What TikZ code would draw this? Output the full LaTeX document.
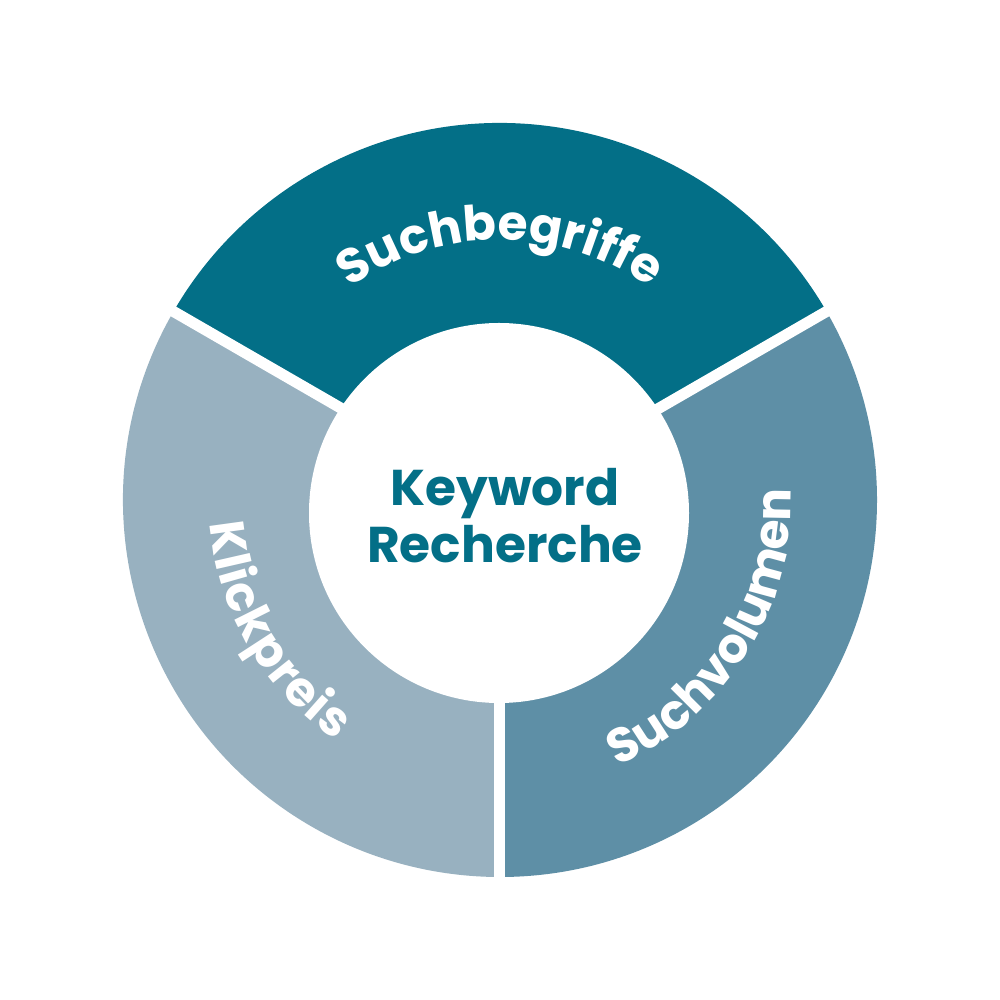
\documentclass[tikz,border=0pt]{standalone}
\usepackage{fontspec}
\setmainfont{Poppins}
\usetikzlibrary{decorations.text}

\definecolor{begriffteal}{RGB}{3,111,135}
\definecolor{volumenblue}{RGB}{94,143,166}
\definecolor{preisgrey}{RGB}{152,177,192}

\begin{document}
\begin{tikzpicture}[scale=1.0]
\useasboundingbox (-5,-5) rectangle (5,5);
\fill[white] (-5,-5) rectangle (5,5);

% Segments
\fill[begriffteal] (0,0) -- (30:3.77) arc[start angle=30, end angle=150, radius=3.77] -- cycle;
\fill[preisgrey] (0,0) -- (150:3.77) arc[start angle=150, end angle=270, radius=3.77] -- cycle;
\fill[volumenblue] (0,0) -- (270:3.77) arc[start angle=270, end angle=390, radius=3.77] -- cycle;

% Gaps
\draw[white, line width=0.11cm] (0,0) -- (30:3.9);
\draw[white, line width=0.11cm] (0,0) -- (150:3.9);
\draw[white, line width=0.11cm] (-0.005,0) -- (-0.005,-3.9);

% Center
\fill[white] (-0.01,-0.13) circle (1.90);
\node[text=begriffteal, align=center, font=\fontsize{14.3}{16.2}\selectfont\bfseries] (kw) at (0.05,-0.16) {Keyword\\Recherche};

% Labels on the ring
\path[decorate, decoration={text along path, text align=center, text color=white,
  text={|\fontsize{13.8}{16}\selectfont\bfseries|Suchbegriffe}}]
  (150:2.6) arc[start angle=150, end angle=30, radius=2.6];
\path[decorate, decoration={text along path, text align=center, text color=white,
  text={|\fontsize{13.8}{16}\selectfont\bfseries\kern0.4pt|Klickpreis}}]
  (150:2.91) arc[start angle=150, end angle=270, radius=2.91];
\path[decorate, decoration={text along path, text align=center, text color=white,
  text={|\fontsize{13.8}{16}\selectfont\bfseries|Suchvolumen}}]
  (268:2.91) arc[start angle=268, end angle=388, radius=2.91];

\end{tikzpicture}
\end{document}
